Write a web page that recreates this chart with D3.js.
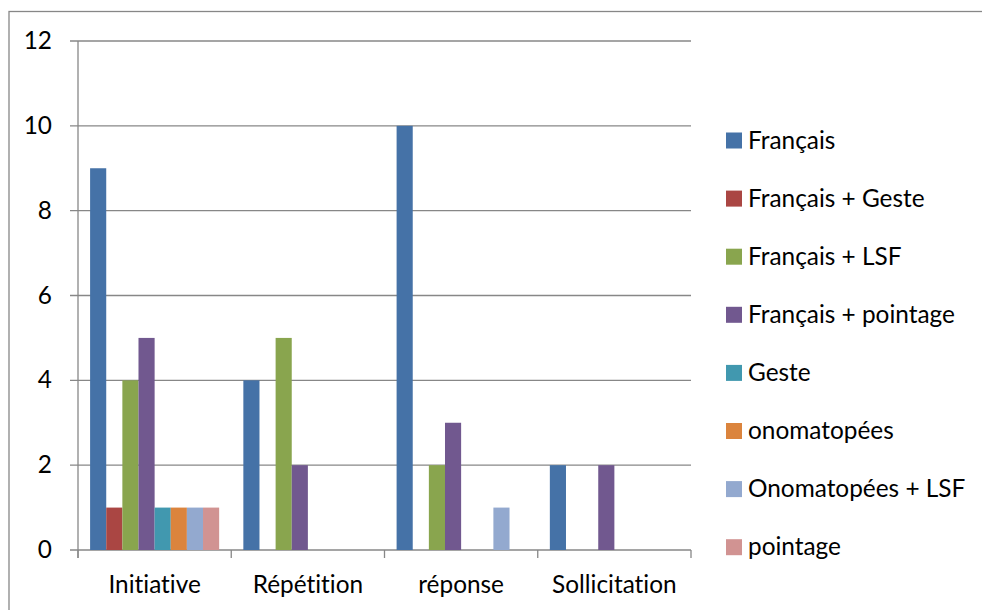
<!DOCTYPE html>
<html><head><meta charset="utf-8">
<script src="https://cdn.jsdelivr.net/npm/d3@7"></script>
<style>html,body{margin:0;padding:0;background:#fff;}svg{display:block;}text{font-variant-ligatures:none;font-feature-settings:"liga" 0,"clig" 0,"dlig" 0;}</style>
</head><body>
<svg id="chart" width="982" height="610"></svg>
<script>
const categories = ["Initiative", "Répétition", "réponse", "Sollicitation"];
const seriesNames = ["Français", "Français + Geste", "Français + LSF", "Français + pointage", "Geste", "onomatopées", "Onomatopées + LSF", "pointage"];
const seriesColors = ["#4572A7", "#AA4643", "#89A54E", "#71588F", "#4198AF", "#DB843D", "#93A9CF", "#D19392"];
const valFrancais = [9, 4, 10, 2];
const valFrancaisGeste = [1, 0, 0, 0];
const valFrancaisLSF = [4, 5, 2, 0];
const valFrancaisPointage = [5, 2, 3, 2];
const valGeste = [1, 0, 0, 0];
const valOnomatopees = [1, 0, 0, 0];
const valOnomatopeesLSF = [1, 0, 1, 0];
const valPointage = [1, 0, 0, 0];
const yTicks = [0, 2, 4, 6, 8, 10, 12];

const seriesValues = [valFrancais, valFrancaisGeste, valFrancaisLSF, valFrancaisPointage, valGeste, valOnomatopees, valOnomatopeesLSF, valPointage];

(function () {
const svg = d3.select("#chart");
const FONT = "Lato, 'Open Sans', sans-serif";
const gray = "#878787";

// fit font size to reference text width
const probe = svg.append("text").attr("font-family", FONT).attr("font-size", 20).text("Français + pointage");
const w20 = probe.node().getComputedTextLength();
probe.remove();
const fs = Math.min(26, 20 * 207 / w20);

// outer border
svg.append("rect").attr("x", 9).attr("y", 11.5).attr("width", 1000).attr("height", 700)
  .attr("fill", "none").attr("stroke", gray).attr("stroke-width", 1.3);

const pLeft = 78, pRight = 691, pTop = 41, pBottom = 550;
const x0 = d3.scaleBand().domain(categories).range([pLeft, pRight]).padding(0);
const x1 = d3.scaleBand().domain(seriesNames).range([0, x0.bandwidth()]).paddingInner(0).paddingOuter(0.75);
const y = d3.scaleLinear().domain([0, 12]).range([pBottom, pTop]);

// gridlines
svg.append("g").selectAll("line").data(yTicks).join("line")
  .attr("x1", pLeft - 8).attr("x2", pRight)
  .attr("y1", d => y(d)).attr("y2", d => y(d))
  .attr("stroke", gray).attr("stroke-width", 1.3);

// y axis line
svg.append("line").attr("x1", pLeft).attr("x2", pLeft).attr("y1", pTop).attr("y2", pBottom + 8)
  .attr("stroke", gray).attr("stroke-width", 1.3);

// x category ticks
svg.append("g").selectAll("line").data(categories.concat(["__end"])).join("line")
  .attr("x1", (d, i) => i < categories.length ? x0(d) : pRight)
  .attr("x2", (d, i) => i < categories.length ? x0(d) : pRight)
  .attr("y1", pBottom).attr("y2", pBottom + 8)
  .attr("stroke", gray).attr("stroke-width", 1.3);

// bars
const groups = svg.append("g").selectAll("g").data(categories).join("g")
  .attr("transform", d => `translate(${x0(d)},0)`);
groups.selectAll("rect").data((c, ci) => seriesNames.map((s, si) => ({s, si, v: seriesValues[si][ci]})).filter(d => d.v > 0))
  .join("rect")
  .attr("x", d => x1(d.s))
  .attr("width", x1.bandwidth())
  .attr("y", d => y(d.v))
  .attr("height", d => y(0) - y(d.v))
  .attr("fill", d => seriesColors[d.si]);

// y labels
svg.append("g").selectAll("text").data(yTicks).join("text")
  .attr("x", 52).attr("y", d => y(d) + fs * 0.33)
  .attr("text-anchor", "end").attr("font-family", FONT).attr("font-size", fs).attr("fill", "#000")
  .text(d => d);

// x labels
svg.append("g").selectAll("text").data(categories).join("text")
  .attr("x", d => x0(d) + x0.bandwidth() / 2).attr("y", 593)
  .attr("text-anchor", "middle").attr("font-family", FONT).attr("font-size", fs).attr("fill", "#000")
  .text(d => d);

// legend
const leg = svg.append("g").selectAll("g").data(seriesNames).join("g")
  .attr("transform", (d, i) => `translate(726,${140.5 + 58.1 * i})`);
leg.append("rect").attr("x", 0).attr("y", -8).attr("width", 16).attr("height", 16)
  .attr("fill", (d, i) => seriesColors[i]);
leg.append("text").attr("x", 22).attr("y", fs * 0.33)
  .attr("font-family", FONT).attr("font-size", fs).attr("fill", "#000")
  .text(d => d);
})();
</script>
</body></html>
